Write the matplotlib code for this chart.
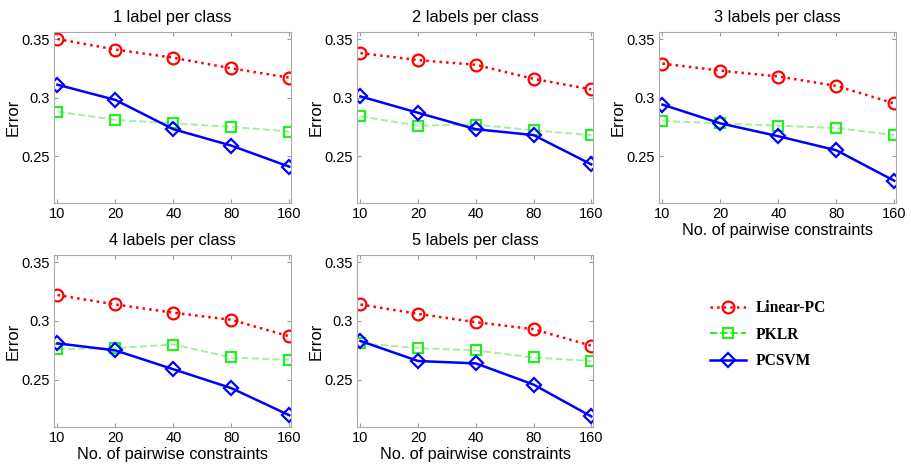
import matplotlib
matplotlib.use("Agg")
import matplotlib.pyplot as plt
from matplotlib.lines import Line2D

plt.rcParams['font.family'] = ['Liberation Sans', 'DejaVu Sans']

x_labels = ["10", "20", "40", "80", "160"]
titles = ["1 label per class", "2 labels per class", "3 labels per class",
          "4 labels per class", "5 labels per class"]

linear_pc = [
    [0.350, 0.341, 0.334, 0.325, 0.317],
    [0.338, 0.332, 0.328, 0.316, 0.307],
    [0.329, 0.323, 0.318, 0.310, 0.295],
    [0.322, 0.314, 0.307, 0.301, 0.287],
    [0.314, 0.306, 0.299, 0.293, 0.279],
]
pklr = [
    [0.288, 0.281, 0.278, 0.275, 0.271],
    [0.284, 0.276, 0.277, 0.272, 0.268],
    [0.280, 0.278, 0.276, 0.274, 0.268],
    [0.276, 0.277, 0.280, 0.269, 0.267],
    [0.281, 0.277, 0.275, 0.269, 0.266],
]
pcsvm = [
    [0.311, 0.298, 0.273, 0.259, 0.241],
    [0.301, 0.287, 0.273, 0.268, 0.243],
    [0.294, 0.278, 0.267, 0.255, 0.229],
    [0.281, 0.275, 0.259, 0.243, 0.220],
    [0.283, 0.266, 0.264, 0.246, 0.219],
]

W, H = 911, 468
fig = plt.figure(figsize=(W / 100, H / 100), dpi=100)

boxes = [
    (54, 32, 291, 203),
    (357, 32, 593, 203),
    (659, 32, 896, 203),
    (54, 255, 291, 427),
    (357, 255, 593, 427),
]
show_xlabel = [False, False, True, True, True]

RED = '#ff0000'
GREEN_M = '#22ee22'
GREEN_L = '#a8eca8'
BLUE = '#0000ff'

red_style = dict(color=RED, ls=':', lw=1.8, marker='o', ms=8.5, mfc='none', mec=RED, mew=1.6)
green_style = dict(color=GREEN_L, ls='--', lw=1.4, marker='s', ms=7, mfc='none', mec=GREEN_M, mew=1.6)
blue_style = dict(color=BLUE, ls='-', lw=1.8, marker='D', ms=7.5, mfc='none', mec=BLUE, mew=1.6)

xs = list(range(len(x_labels)))
for i, (l, t, r, b) in enumerate(boxes):
    ax = fig.add_axes([l / W, 1 - b / H, (r - l) / W, (b - t) / H])
    ax.plot(xs, pklr[i], **green_style)
    ax.plot(xs, linear_pc[i], **red_style)
    ax.plot(xs, pcsvm[i], **blue_style)
    ax.set_xlim(-0.06, 4.03)
    ax.set_ylim(0.21, 0.356)
    ax.set_xticks(xs)
    ax.set_xticklabels(x_labels)
    ax.set_yticks([0.25, 0.3, 0.35])
    ax.set_yticklabels(["0.25", "0.3", "0.35"])
    ax.tick_params(direction='in', length=3, labelsize=10.5, color='#999999',
                   pad=3, top=True, right=True)
    for sp in ax.spines.values():
        sp.set_color('#aaaaaa')
        sp.set_linewidth(0.8)
    ax.set_title(titles[i], fontsize=11.8, pad=7)
    ax.set_ylabel("Error", fontsize=12)
    ax.yaxis.set_label_coords(-33 / (r - l), 0.5)
    if show_xlabel[i]:
        ax.set_xlabel("No. of pairwise constraints", fontsize=11.7, labelpad=1)

handles = [
    Line2D([], [], **dict(red_style)),
    Line2D([], [], **dict(green_style, color=GREEN_M)),
    Line2D([], [], **dict(blue_style)),
]
fig.legend(handles, ["Linear-PC", "PKLR", "PCSVM"], loc='upper left',
           bbox_to_anchor=(696 / W, 1 - 286 / H), frameon=False,
           prop={'family': 'Liberation Serif', 'weight': 'bold', 'size': 11.2},
           handlelength=2.3, labelspacing=0.68, handletextpad=0.65)

fig.savefig("out.png", dpi=100)
